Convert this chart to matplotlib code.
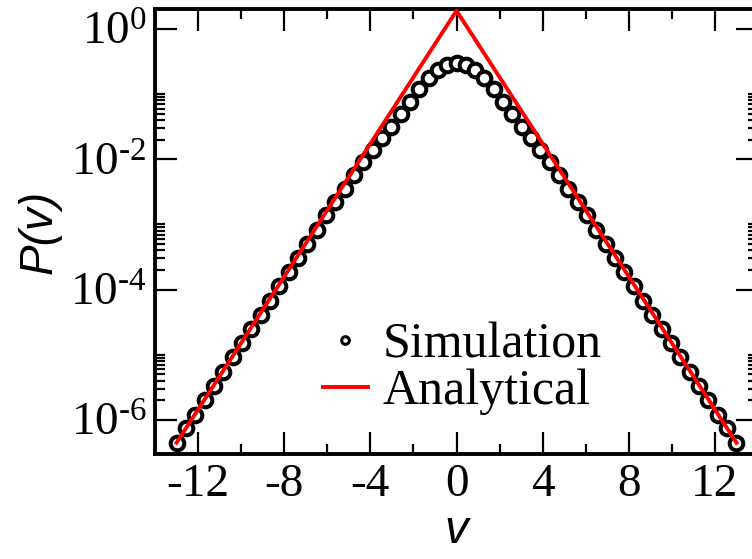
import numpy as np
import matplotlib
matplotlib.use('Agg')
import matplotlib.pyplot as plt
from matplotlib.ticker import FixedLocator, FuncFormatter, MultipleLocator

plt.rcParams['font.family'] = ['Liberation Serif', 'DejaVu Serif']
plt.rcParams['mathtext.fontset'] = 'custom'
plt.rcParams['mathtext.rm'] = 'Liberation Serif'
plt.rcParams['mathtext.default'] = 'rm'
plt.rcParams['axes.unicode_minus'] = False

# simulated velocity distribution (histogram bin centres)
v_sim = [-13.0, -12.567, -12.133, -11.7, -11.267, -10.833, -10.4, -9.967, -9.533, -9.1,
         -8.667, -8.233, -7.8, -7.367, -6.933, -6.5, -6.067, -5.633, -5.2, -4.767,
         -4.333, -3.9, -3.467, -3.033, -2.6, -2.167, -1.733, -1.3, -0.867, -0.433,
         0.0,
         0.433, 0.867, 1.3, 1.733, 2.167, 2.6, 3.033, 3.467, 3.9, 4.333,
         4.767, 5.2, 5.633, 6.067, 6.5, 6.933, 7.367, 7.8, 8.233, 8.667,
         9.1, 9.533, 9.967, 10.4, 10.833, 11.267, 11.7, 12.133, 12.567, 13.0]
p_sim = [4.47e-7, 7.41e-7, 1.20e-6, 2.00e-6, 3.31e-6, 5.37e-6, 9.12e-6, 1.51e-5, 2.45e-5, 4.07e-5,
         6.76e-5, 1.12e-4, 1.86e-4, 3.09e-4, 5.01e-4, 8.32e-4, 1.38e-3, 2.24e-3, 3.55e-3, 5.75e-3,
         9.12e-3, 1.41e-2, 2.14e-2, 3.16e-2, 4.90e-2, 7.59e-2, 0.120, 0.178, 0.235, 0.279,
         0.295,
         0.279, 0.235, 0.178, 0.120, 7.59e-2, 4.90e-2, 3.16e-2, 2.14e-2, 1.41e-2, 9.12e-3,
         5.75e-3, 3.55e-3, 2.24e-3, 1.38e-3, 8.32e-4, 5.01e-4, 3.09e-4, 1.86e-4, 1.12e-4, 6.76e-5,
         4.07e-5, 2.45e-5, 1.51e-5, 9.12e-6, 5.37e-6, 3.31e-6, 2.00e-6, 1.20e-6, 7.41e-7, 4.47e-7]

# analytical exponential tails
v_th = [-13.0, 0.0, 13.0]
p_th = [4.47e-7, 1.9, 4.47e-7]

xticks = [-12, -8, -4, 0, 4, 8, 12]
yticks = [1e-6, 1e-4, 1e-2, 1e0]

fig = plt.figure(figsize=(7.52, 5.59), dpi=100)
ax = fig.add_axes([0.2061, 0.1878, 0.8019, 0.7956])

ax.plot(v_sim, p_sim, 'o', ms=9.8, mfc='white', mec='black', mew=2.9,
        label='Simulation', zorder=3)
ax.plot(v_th, p_th, '-', color='#ff0000', lw=2.8, label='Analytical', zorder=4)

ax.set_yscale('log')
ax.set_xlim(-14, 14)
ax.set_ylim(3e-7, 2.0)

ax.xaxis.set_major_locator(FixedLocator(xticks))
ax.xaxis.set_minor_locator(MultipleLocator(2))
ax.yaxis.set_major_locator(FixedLocator(yticks))
minors = [m * 10.0 ** k for k in (-6, -4, -2) for m in range(2, 11)]
ax.yaxis.set_minor_locator(FixedLocator(minors))


def fmt_y(y, pos):
    e = int(round(np.log10(y)))
    if e < 0:
        return r'$10^{\text{-%d}}$' % (-e)
    return r'$10^{%d}$' % e


ax.yaxis.set_major_formatter(FuncFormatter(fmt_y))
ax.yaxis.set_minor_formatter(FuncFormatter(lambda y, pos: ''))

ax.tick_params(which='both', direction='in', top=True, right=True, width=1.6,
               labelsize=34)
ax.tick_params(which='major', length=16)
ax.tick_params(which='minor', length=7)
ax.tick_params(axis='x', pad=7)
ax.tick_params(axis='y', pad=6)
for s in ax.spines.values():
    s.set_linewidth(2.8)

ax.set_xlabel('v', fontsize=34, family=['Liberation Sans'], style='italic',
              labelpad=2)
ax.set_ylabel('P(v)', fontsize=33, family=['Liberation Sans'], style='italic',
              labelpad=6)

leg = ax.legend(loc='lower center', bbox_to_anchor=(0.51, 0.042), frameon=False,
                fontsize=36, handlelength=0.9, handletextpad=0.3,
                labelspacing=0.0, borderaxespad=0)
leg.legend_handles[0].set_markersize(5.5)
leg.legend_handles[0].set_markeredgewidth(2.2)

fig.savefig('out.png', dpi=100)
